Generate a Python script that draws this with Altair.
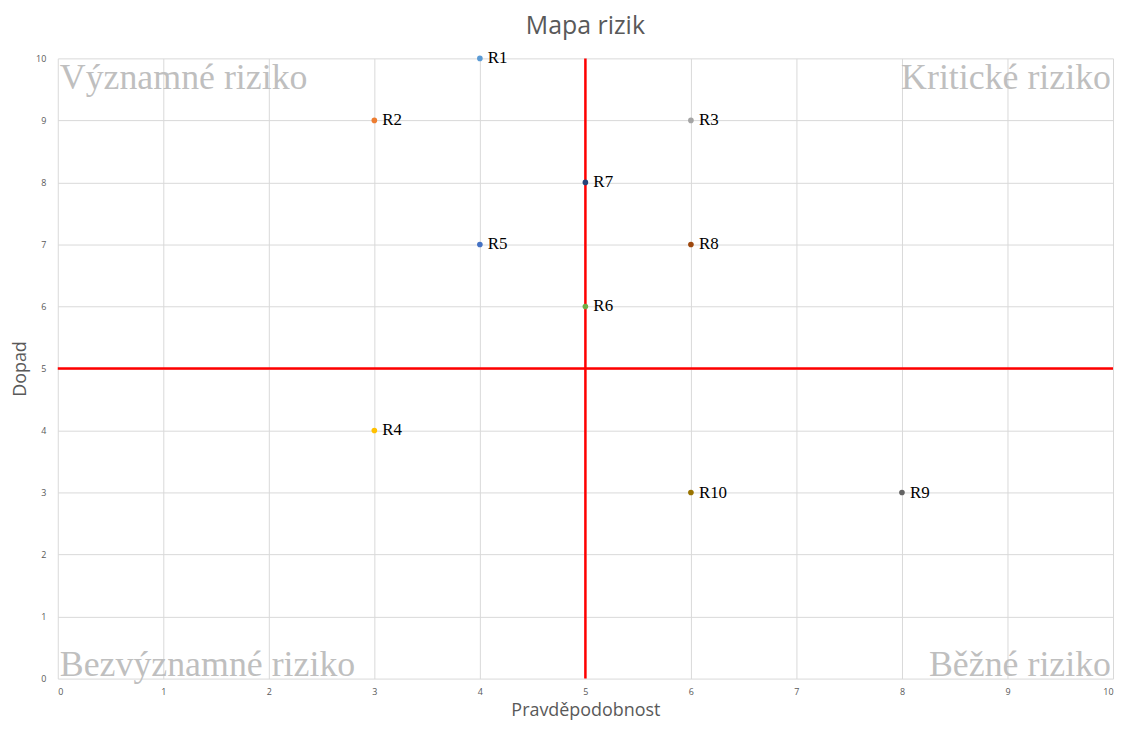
import altair as alt
import pandas as pd

# --- data ---
risk_names = ["R1", "R2", "R3", "R4", "R5", "R6", "R7", "R8", "R9", "R10"]
probability = [4, 3, 6, 3, 4, 5, 5, 6, 8, 6]
impact = [10, 9, 9, 4, 7, 6, 8, 7, 3, 3]
risk_colors = ["#5B9BD5", "#ED7D31", "#A5A5A5", "#FFC000", "#4472C4",
               "#70AD47", "#264478", "#9E480E", "#636363", "#997300"]
tick_values = [0, 1, 2, 3, 4, 5, 6, 7, 8, 9, 10]
threshold = [5]

quad_top_left = ["Významné riziko"]
quad_top_right = ["Kritické riziko"]
quad_bottom_left = ["Bezvýznamné riziko"]
quad_bottom_right = ["Běžné riziko"]

df = pd.DataFrame({"name": risk_names, "p": probability, "i": impact})
th = pd.DataFrame({"v": threshold})

xs = alt.Scale(domain=[0, 10], nice=False, zero=False)
ys = alt.Scale(domain=[0, 10], nice=False, zero=False)

axis_common = dict(values=tick_values, format="d", grid=True, gridColor="#D9D9D9", gridWidth=1,
                   domain=False, ticks=False, labelFontSize=9, labelColor="#595959",
                   labelFont="Open Sans", titleFont="Open Sans", titleFontSize=18,
                   titleColor="#595959", titleFontWeight="normal")

base = alt.Chart(df).encode(
    x=alt.X("p:Q", scale=xs, title="Pravděpodobnost",
            axis=alt.Axis(**axis_common, labelPadding=9, titlePadding=5)),
    y=alt.Y("i:Q", scale=ys, title="Dopad",
            axis=alt.Axis(**axis_common, labelPadding=12, titlePadding=6)),
)

vline = alt.Chart(th).mark_rule(color="#FF0000", strokeWidth=2.5).encode(x=alt.X("v:Q", scale=xs))
hline = alt.Chart(th).mark_rule(color="#FF0000", strokeWidth=2.5).encode(y=alt.Y("v:Q", scale=ys))

points = base.mark_circle(size=32, opacity=1).encode(
    color=alt.Color("name:N", scale=alt.Scale(domain=risk_names, range=risk_colors), legend=None)
)
labels = base.mark_text(align="left", baseline="middle", dx=8, font="Liberation Serif",
                        fontSize=17, color="#000000").encode(text="name:N")


def quad(text, xv, yv, align, baseline, dx, dy):
    d = pd.DataFrame({"t": text, "x": [xv], "y": [yv]})
    return alt.Chart(d).mark_text(align=align, baseline=baseline, dx=dx, dy=dy,
                                  font="Liberation Serif", fontSize=36,
                                  color="#BFBFBF").encode(
        x=alt.X("x:Q", scale=xs), y=alt.Y("y:Q", scale=ys), text="t:N")


q1 = quad(quad_top_left, 0, 10, "left", "top", 2, 3)
q2 = quad(quad_top_right, 10, 10, "right", "top", -2, 3)
q3 = quad(quad_bottom_left, 0, 0, "left", "alphabetic", 2, -3)
q4 = quad(quad_bottom_right, 10, 0, "right", "alphabetic", -2, -3)

chart = alt.layer(q1, q2, q3, q4, vline, hline, points, labels).properties(
    width=1060, height=623,
    title=alt.TitleParams("Mapa rizik", font="Open Sans", fontSize=25, color="#595959",
                          fontWeight="normal", offset=10),
    autosize=alt.AutoSizeParams(type="none"),
    padding={"left": 50, "top": 49, "right": 2, "bottom": 42},
).configure_view(stroke=None)

chart.save("out.html", embed_options={"renderer": "svg", "actions": False})
